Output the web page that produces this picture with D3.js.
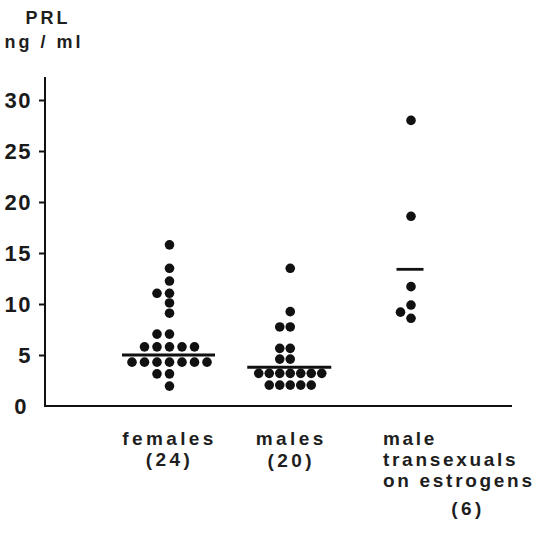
<!DOCTYPE html>
<meta charset="utf-8">
<style>
body { margin: 0; background: #fff; }
svg { display: block; }
.axis path, .axis line { stroke: #111; stroke-width: 2px; fill: none; }
.tick text { font: bold 22px "Liberation Sans", Arial, sans-serif; fill: #1a1a1a; letter-spacing: 1.5px; }
.lbl { font: bold 19px "Liberation Sans", Arial, sans-serif; fill: #1e1e1e; letter-spacing: 3.4px; }
.ttl { font: bold 18px "Liberation Sans", Arial, sans-serif; fill: #1e1e1e; letter-spacing: 3px; }
.dot { fill: #111; }
.mean { stroke: #111; stroke-width: 2.8px; }
</style>
<body>
<script src="https://d3js.org/d3.v7.min.js"></script>
<script>

// PRL values (ng/ml)
var groups = ["females", "males", "transexuals"];
var females = [15.8, 13.5, 12.25, 11.05, 11.05, 10.1, 9.1, 7.05, 7.05,
  5.8, 5.8, 5.8, 5.8, 5.8, 4.3, 4.3, 4.3, 4.3, 4.3, 4.3, 4.3, 3.15, 3.15, 1.95];
var males = [13.5, 9.25, 7.75, 7.75, 5.65, 5.65, 4.6, 4.6,
  3.2, 3.2, 3.2, 3.2, 3.2, 3.2, 3.2, 2.05, 2.05, 2.05, 2.05, 2.05];
var transexuals = [28.0, 18.6, 11.7, 9.9, 9.2, 8.6];
var means = [5.0, 3.8, 13.4];
var yTicks = [0, 5, 10, 15, 20, 25, 30];
var labels = [["females", "(24)"], ["males", "(20)"], ["male", "transexuals", "on estrogens", "(6)"]];

var width = 537, height = 533;
var r = 4.8;
var steps = [12.5, 10.5, 10.5];
var meanHalf = [46.5, 42, 13.5];

var svg = d3.select("body").append("svg")
    .attr("width", width)
    .attr("height", height);

var y = d3.scaleLinear().domain([0, 30]).range([406, 100]);
var x = d3.scalePoint().domain(groups).range([169.5, 411]);

// axes
svg.append("line")
  .attr("x1", 45).attr("x2", 45).attr("y1", 77).attr("y2", y(0) + 1)
  .style("stroke", "#111").style("stroke-width", 2);
svg.append("line")
  .attr("x1", 44).attr("x2", 512).attr("y1", y(0)).attr("y2", y(0))
  .style("stroke", "#111").style("stroke-width", 2);

var yAxis = svg.append("g").attr("class", "axis")
    .attr("transform", "translate(45,0)")
    .call(d3.axisLeft(y).tickValues(yTicks).tickSize(6).tickPadding(7));
yAxis.select(".domain").remove();
yAxis.selectAll(".tick").filter(function(d) { return d === 0; }).select("line").remove();
yAxis.selectAll(".tick").filter(function(d) { return d === 0; }).select("text").attr("x", -17);

// y title
svg.append("text").attr("class", "ttl").attr("x", 48).attr("y", 24)
  .attr("text-anchor", "middle").text("PRL");
svg.append("text").attr("class", "ttl").attr("x", 44).attr("y", 48)
  .attr("text-anchor", "middle").text("ng / ml");

// simple dot-plot layout: stack sideways when dots would overlap
function swarm(vals, cx, step) {
  var placed = [];
  vals.slice().sort(d3.ascending).forEach(function(v) {
    var cy = y(v);
    for (var k = 0; k < 20; k++) {
      var off = k === 0 ? 0 : (k % 2 ? -Math.ceil(k / 2) : k / 2);
      var px = cx + off * step;
      var hit = placed.some(function(p) {
        return Math.hypot(p.x - px, p.y - cy) < 2 * r;
      });
      if (!hit) { placed.push({x: px, y: cy, v: v}); break; }
    }
  });
  return placed;
}

[females, males, transexuals].forEach(function(vals, i) {
  var pts = swarm(vals, x(groups[i]), steps[i]);
  svg.append("g").selectAll("circle").data(pts).enter()
    .append("circle").attr("class", "dot")
    .attr("cx", function(d) { return d.x; })
    .attr("cy", function(d) { return d.y; })
    .attr("r", r);
});

svg.append("g").selectAll("line").data(means).enter()
  .append("line").attr("class", "mean")
  .attr("x1", function(d, i) { return x(groups[i]) - meanHalf[i] - 1; })
  .attr("x2", function(d, i) { return x(groups[i]) + meanHalf[i] - 1; })
  .attr("y1", function(d) { return y(d); })
  .attr("y2", function(d) { return y(d); });

// category labels
labels[0].forEach(function(t, j) {
  svg.append("text").attr("class", "lbl")
    .attr("x", x("females") + 0).attr("y", 445 + j * 21)
    .attr("text-anchor", "middle").text(t);
});
labels[1].forEach(function(t, j) {
  svg.append("text").attr("class", "lbl")
    .attr("x", x("males") + 1).attr("y", 445 + j * 22)
    .attr("text-anchor", "middle").text(t);
});
labels[2].forEach(function(t, j) {
  var last = j === labels[2].length - 1;
  svg.append("text").attr("class", "lbl")
    .style("letter-spacing", last ? null : "2.7px")
    .attr("x", last ? 468 : 383).attr("y", 445 + j * 21 + (last ? 7 : 0))
    .attr("text-anchor", last ? "middle" : "start").text(t);
});

</script>
</body>
